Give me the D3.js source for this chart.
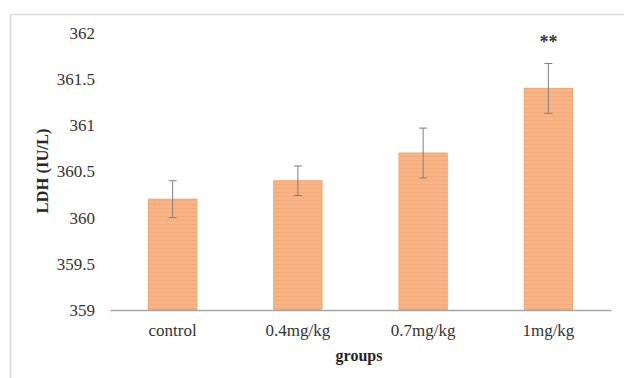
<!DOCTYPE html>
<html>
<head>
<meta charset="utf-8">
<script src="https://cdn.jsdelivr.net/npm/d3@7"></script>
<style>
  body { margin: 0; background: #fff; }
  svg { display: block; }
  svg text { font-family: "Liberation Serif", "Times New Roman", serif; }
</style>
</head>
<body>
<div id="wrapper"></div>
<script>
const groups = ["control", "0.4mg/kg", "0.7mg/kg", "1mg/kg"];
const ldhValues = [360.2, 360.4, 360.7, 361.4];
const ldhErrors = [0.2, 0.16, 0.27, 0.27];
const significance = ["", "", "", "**"];
const yTicks = [359, 359.5, 360, 360.5, 361, 361.5, 362];

const dataset = groups.map((g, i) => ({
    group: g, value: ldhValues[i], err: ldhErrors[i], sig: significance[i]
}));

let dimensions = {
    width: 624,
    height: 378,
    margin: { top: 33, right: 13, bottom: 68, left: 110 },
};
dimensions.boundedWidth = dimensions.width - dimensions.margin.left - dimensions.margin.right;
dimensions.boundedHeight = dimensions.height - dimensions.margin.top - dimensions.margin.bottom;

const wrapper = d3.select("#wrapper")
    .append("svg")
    .attr("width", dimensions.width)
    .attr("height", dimensions.height);

// chart frame (top and left edges visible, rest cropped)
wrapper.append("path")
    .attr("d", "M10.5,380 L10.5,14.5 L630,14.5")
    .attr("fill", "none")
    .attr("stroke", "#d9d9d9")
    .attr("stroke-width", 1.5);

const defs = wrapper.append("defs");
const pattern = defs.append("pattern")
    .attr("id", "stripes")
    .attr("patternUnits", "userSpaceOnUse")
    .attr("width", 8)
    .attr("height", 4);
pattern.append("rect").attr("width", 8).attr("height", 4).attr("fill", "#f7b487");
pattern.append("rect").attr("y", 3).attr("width", 8).attr("height", 1).attr("fill", "#f4aa7b");

const bounds = wrapper.append("g")
    .attr("transform", `translate(${dimensions.margin.left},${dimensions.margin.top})`);

const yScale = d3.scaleLinear()
    .domain([359, 362])
    .range([dimensions.boundedHeight, 0]);

const xScale = d3.scaleBand()
    .domain(groups)
    .range([0, dimensions.boundedWidth])
    .paddingInner(0.615)
    .paddingOuter(0.3075);

// bars
bounds.selectAll("rect.bar")
    .data(dataset)
    .enter()
    .append("rect")
    .attr("class", "bar")
    .attr("x", d => xScale(d.group))
    .attr("width", xScale.bandwidth())
    .attr("y", d => yScale(d.value))
    .attr("height", d => yScale(359) - yScale(d.value))
    .attr("fill", "url(#stripes)")
    .attr("stroke", "#f3a36c")
    .attr("stroke-width", 1);

// error bars
const errG = bounds.selectAll("g.err")
    .data(dataset)
    .enter()
    .append("g")
    .attr("class", "err")
    .attr("transform", d => `translate(${xScale(d.group) + xScale.bandwidth() / 2},0)`);

errG.append("line")
    .attr("y1", d => yScale(d.value + d.err))
    .attr("y2", d => yScale(d.value - d.err))
    .attr("stroke", "#7f7f7f")
    .attr("stroke-width", 1);
errG.append("line")
    .attr("x1", -4).attr("x2", 4)
    .attr("y1", d => yScale(d.value + d.err))
    .attr("y2", d => yScale(d.value + d.err))
    .attr("stroke", "#7f7f7f");
errG.append("line")
    .attr("x1", -4).attr("x2", 4)
    .attr("y1", d => yScale(d.value - d.err))
    .attr("y2", d => yScale(d.value - d.err))
    .attr("stroke", "#7f7f7f");

errG.append("text")
    .attr("y", d => yScale(d.value + d.err) - 15)
    .attr("text-anchor", "middle")
    .style("font-size", "18px")
    .style("font-weight", "bold")
    .attr("fill", "#333")
    .text(d => d.sig);

// y axis (labels only)
const yAxis = bounds.append("g")
    .call(d3.axisLeft(yScale).tickValues(yTicks).tickSize(0).tickPadding(15)
        .tickFormat(d => d3.format("")(d)));
yAxis.select(".domain").remove();
yAxis.selectAll("text")
    .style("font-size", "17px")
    .style("font-family", "'Liberation Serif', serif")
    .attr("fill", "#333");

// x axis
const xAxis = bounds.append("g")
    .attr("transform", `translate(0,${dimensions.boundedHeight})`)
    .call(d3.axisBottom(xScale).tickSize(0).tickPadding(14));
xAxis.select(".domain")
    .attr("stroke", "#a6a6a6")
    .attr("stroke-width", 1.5);
xAxis.selectAll("text")
    .style("font-size", "17px")
    .style("font-family", "'Liberation Serif', serif")
    .attr("fill", "#333");

// axis titles
wrapper.append("text")
    .attr("transform", `translate(48,171) rotate(-90)`)
    .attr("text-anchor", "middle")
    .style("font-size", "16.5px")
    .style("font-weight", "bold")
    .attr("fill", "#262626")
    .text("LDH (IU/L)");

wrapper.append("text")
    .attr("x", 359)
    .attr("y", 361)
    .attr("text-anchor", "middle")
    .style("font-size", "16px")
    .style("font-weight", "bold")
    .attr("fill", "#262626")
    .text("groups");
</script>
</body>
</html>
